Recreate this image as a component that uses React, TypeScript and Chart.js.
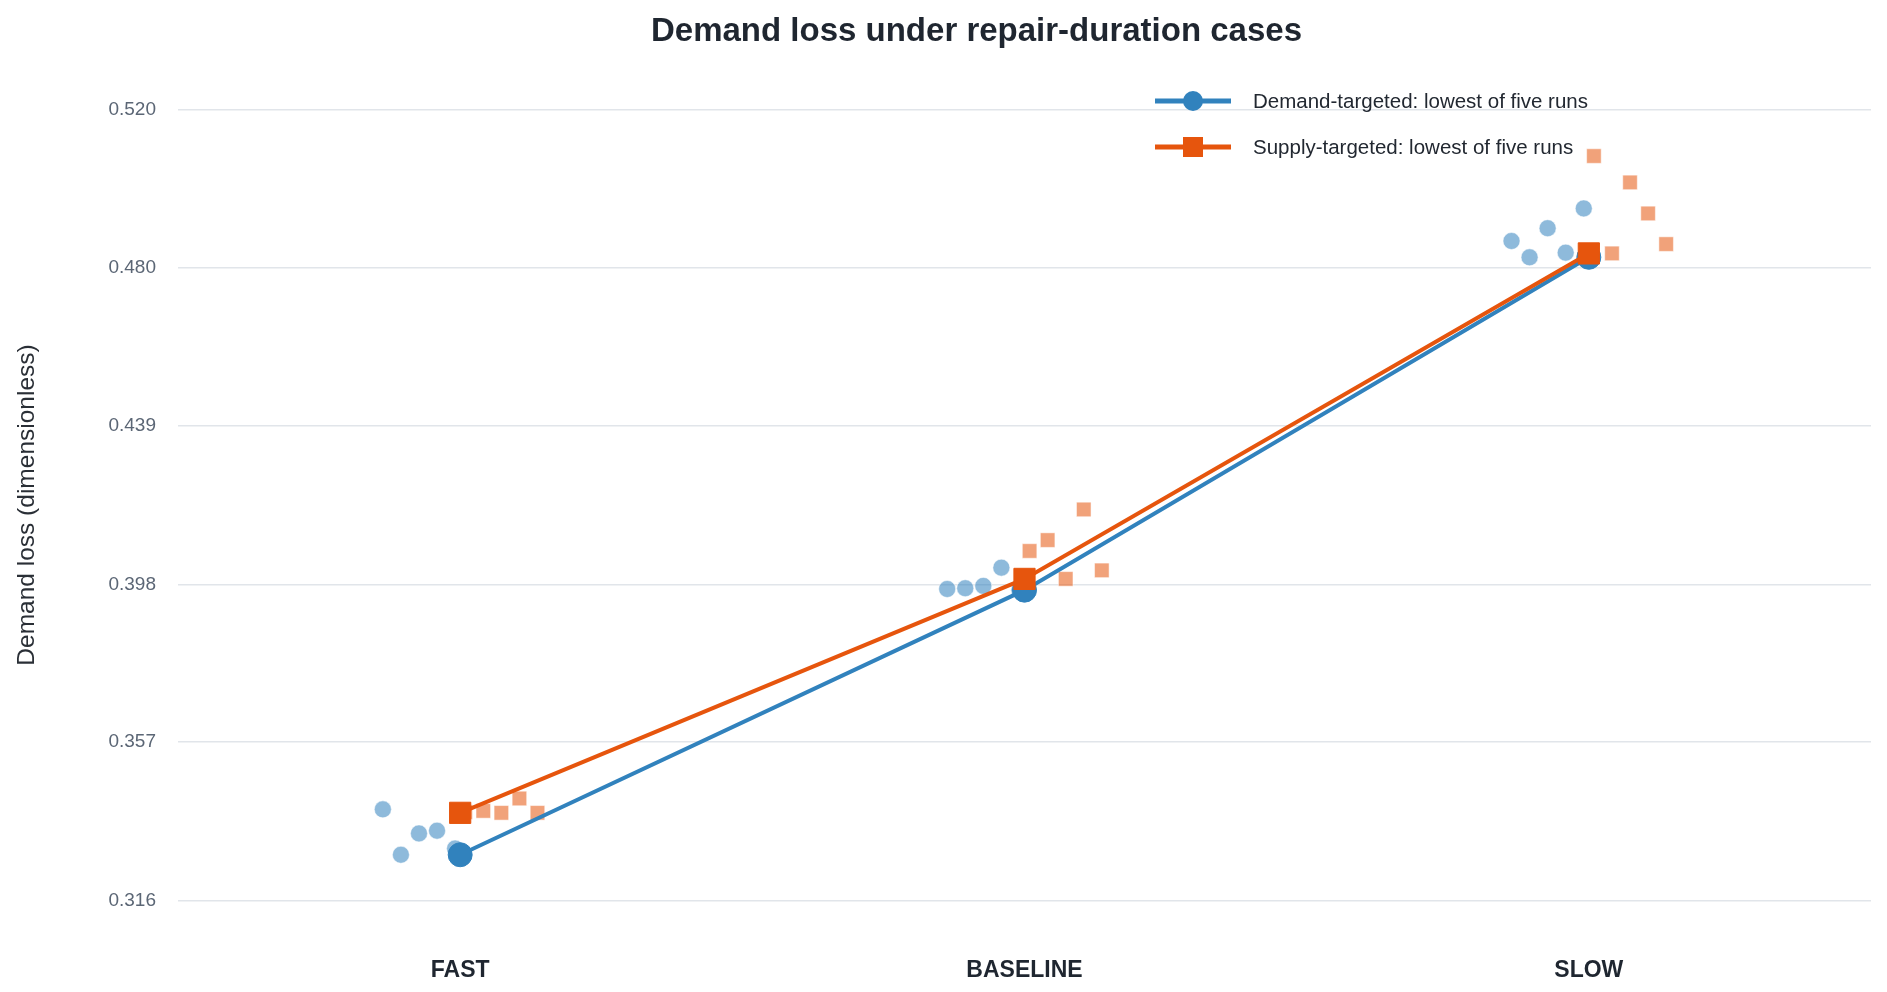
import { Chart, registerables } from 'chart.js';
import { useEffect, useRef } from 'react';

Chart.register(...registerables);

const categories = ['FAST', 'BASELINE', 'SLOW'];

// five runs per case, in run order (left to right inside each cluster)
const demandRuns = [
  [0.3399, 0.3282, 0.3337, 0.3344, 0.3298],
  [0.3967, 0.3969, 0.3975, 0.4022, 0.3964],
  [0.4864, 0.4822, 0.4897, 0.4834, 0.4948],
];
const supplyRuns = [
  [0.3392, 0.3395, 0.339, 0.3427, 0.339],
  [0.4065, 0.4093, 0.3993, 0.4172, 0.4015],
  [0.5083, 0.4832, 0.5015, 0.4935, 0.4856],
];
const demandLowest = [0.3282, 0.3964, 0.4822];
const supplyLowest = [0.339, 0.3993, 0.4832];

const yTickValues = [0.3164, 0.3572, 0.3979, 0.4387, 0.4795, 0.5203];
const yTickLabels = ['0.316', '0.357', '0.398', '0.439', '0.480', '0.520'];

const seriesNames = [
  'Demand-targeted: lowest of five runs',
  'Supply-targeted: lowest of five runs',
];

const TITLE = 'Demand loss under repair-duration cases';
const FONT = '"Liberation Sans", Arial, Helvetica, sans-serif';
const BLUE = '#3182bd';
const ORANGE = '#e6550d';
const BLUE_LIGHT = 'rgba(49, 130, 189, 0.55)';
const ORANGE_LIGHT = 'rgba(230, 85, 13, 0.55)';

// runs are spread sideways: demand to the left of the case, supply to the right
const jitter = (side: number, i: number) => side * (0.009 + (side < 0 ? 4 - i : i) * 0.032);

const runPoints = (runs: number[][], side: number) =>
  runs.flatMap((vals, c) => vals.map((y, i) => ({ x: c + jitter(side, i), y })));

const overlay = {
  id: 'overlay',
  afterDraw(chart: any) {
    const { ctx, chartArea } = chart;
    ctx.save();
    ctx.font = `bold 33px ${FONT}`;
    ctx.fillStyle = '#1f2630';
    ctx.textAlign = 'center';
    ctx.textBaseline = 'alphabetic';
    ctx.fillText(TITLE, (chartArea.left + chartArea.right) / 2 - 48, 33);

    // legend sits inside the plot, top right
    const x0 = chartArea.right - 716;
    const items = [
      { color: BLUE, shape: 'circle' },
      { color: ORANGE, shape: 'rect' },
    ];
    items.forEach((it, i) => {
      const y = chartArea.top + 21 + i * 46;
      ctx.strokeStyle = it.color;
      ctx.fillStyle = it.color;
      ctx.lineWidth = 5;
      ctx.beginPath();
      ctx.moveTo(x0, y);
      ctx.lineTo(x0 + 76, y);
      ctx.stroke();
      if (it.shape === 'circle') {
        ctx.beginPath();
        ctx.arc(x0 + 38, y, 10, 0, Math.PI * 2);
        ctx.fill();
      } else {
        ctx.fillRect(x0 + 28, y - 10, 20, 20);
      }
      ctx.font = `20.5px ${FONT}`;
      ctx.fillStyle = '#222831';
      ctx.textAlign = 'left';
      ctx.textBaseline = 'middle';
      ctx.fillText(seriesNames[i], x0 + 98, y + 1);
    });
    ctx.restore();
  },
};

const DemandLossChart: React.FC = () => {
  const ref = useRef<HTMLCanvasElement>(null);
  const chartInstance = useRef<Chart | null>(null);

  useEffect(() => {
    document.documentElement.style.overflow = 'hidden';
    document.body.style.overflow = 'hidden';

    if (!ref.current) return;
    const ctx = ref.current.getContext('2d');
    if (!ctx) return;
    if (chartInstance.current) chartInstance.current.destroy();

    Chart.defaults.font.family = FONT;

    chartInstance.current = new Chart(ctx, {
      type: 'scatter',
      data: {
        datasets: [
          {
            label: seriesNames[1],
            data: supplyLowest.map((y, i) => ({ x: i, y })),
            showLine: true,
            borderColor: ORANGE,
            backgroundColor: ORANGE,
            borderWidth: 4,
            pointStyle: 'rect',
            pointRadius: 15,
            pointBorderWidth: 1,
            pointBorderColor: ORANGE,
            order: 0,
          },
          {
            label: seriesNames[0],
            data: demandLowest.map((y, i) => ({ x: i, y })),
            showLine: true,
            borderColor: BLUE,
            backgroundColor: BLUE,
            borderWidth: 4,
            pointStyle: 'circle',
            pointRadius: 12,
            pointBorderWidth: 1,
            pointBorderColor: BLUE,
            order: 1,
          },
          {
            label: 'Supply-targeted runs',
            data: runPoints(supplyRuns, 1),
            backgroundColor: ORANGE_LIGHT,
            borderColor: 'rgba(255,255,255,0.5)',
            borderWidth: 1,
            pointStyle: 'rect',
            pointRadius: 10.3,
            order: 2,
          },
          {
            label: 'Demand-targeted runs',
            data: runPoints(demandRuns, -1),
            backgroundColor: BLUE_LIGHT,
            borderColor: 'rgba(255,255,255,0.5)',
            borderWidth: 1,
            pointStyle: 'circle',
            pointRadius: 8.5,
            order: 3,
          },
        ],
      },
      options: {
        animation: false,
        responsive: true,
        maintainAspectRatio: false,
        layout: { autoPadding: false, padding: { top: 72, right: 8, left: 0, bottom: 0 } },
        plugins: {
          legend: { display: false },
          title: { display: false },
          tooltip: { enabled: false },
        },
        scales: {
          x: {
            type: 'linear',
            min: -0.5,
            max: 2.5,
            grid: { display: false },
            border: { display: false },
            afterBuildTicks: (scale: any) => {
              scale.ticks = categories.map((_, i) => ({ value: i }));
            },
            afterFit: (scale: any) => {
              scale.height = 54;
            },
            ticks: {
              padding: 19,
              color: '#1f2630',
              font: { size: 23, weight: 'bold' },
              callback: (v: any) => categories[v] ?? '',
            },
          },
          y: {
            type: 'linear',
            min: 0.3088,
            max: 0.5279,
            grid: { color: '#e1e5ea', lineWidth: 1.5, drawTicks: false },
            border: { display: false },
            afterBuildTicks: (scale: any) => {
              scale.ticks = yTickValues.map((value) => ({ value }));
            },
            afterFit: (scale: any) => {
              scale.width = 170;
            },
            ticks: {
              padding: 22,
              color: '#5b6675',
              font: { size: 19 },
              callback: (_v: any, i: number) => yTickLabels[i],
            },
            title: {
              display: true,
              text: 'Demand loss (dimensionless)',
              color: '#2a2f36',
              font: { size: 24.5 },
              padding: { top: 5, bottom: 3 },
            },
          },
        },
      },
      plugins: [overlay],
    });

    return () => {
      if (chartInstance.current) {
        chartInstance.current.destroy();
        chartInstance.current = null;
      }
    };
  }, []);

  return (
    <div style={{ position: 'relative', width: '100%', height: 'calc(100vh - 16px)' }}>
      <canvas ref={ref}></canvas>
    </div>
  );
};

export default function App() {
  return <DemandLossChart />;
}
